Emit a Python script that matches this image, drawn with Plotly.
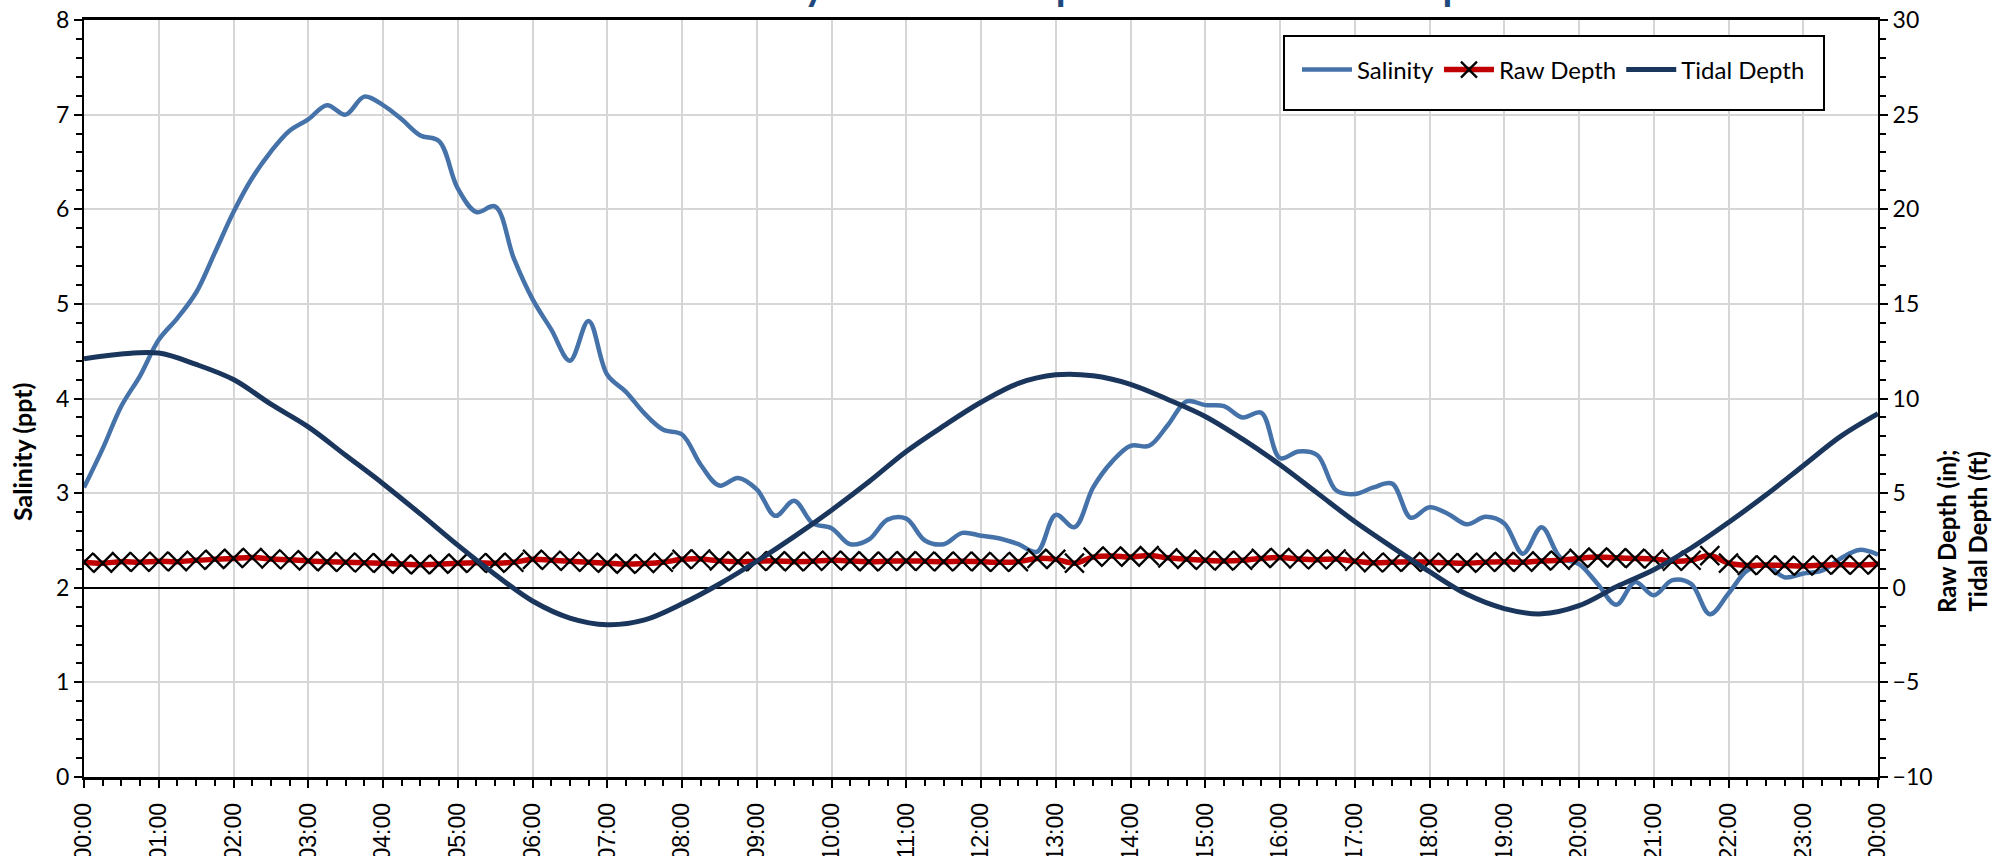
import plotly.graph_objects as go

# ---- data -------------------------------------------------------------
hour_ticks = list(range(25))
hour_labels = ["00:00", "01:00", "02:00", "03:00", "04:00", "05:00", "06:00",
               "07:00", "08:00", "09:00", "10:00", "11:00", "12:00", "13:00",
               "14:00", "15:00", "16:00", "17:00", "18:00", "19:00", "20:00",
               "21:00", "22:00", "23:00", "00:00"]

# 15-minute logger samples (hours since midnight)
sample_hours = [q / 4 for q in range(97)]

salinity_ppt = [
    3.06, 3.47, 3.92, 4.24, 4.62, 4.85, 5.12, 5.54,
    5.97, 6.33, 6.61, 6.83, 6.95, 7.10, 7.00, 7.19,
    7.10, 6.95, 6.78, 6.72, 6.22, 5.97, 6.03, 5.48,
    5.05, 4.73, 4.40, 4.82, 4.25, 4.07, 3.84, 3.67,
    3.62, 3.30, 3.08, 3.16, 3.04, 2.76, 2.92, 2.68,
    2.63, 2.46, 2.51, 2.72, 2.73, 2.50, 2.46, 2.58,
    2.55, 2.52, 2.46, 2.38, 2.77, 2.64, 3.06, 3.33,
    3.50, 3.50, 3.72, 3.97, 3.93, 3.92, 3.80, 3.85,
    3.37, 3.44, 3.40, 3.03, 2.99, 3.06, 3.10, 2.74,
    2.85, 2.78, 2.67, 2.75, 2.68, 2.36, 2.64, 2.32,
    2.25, 2.04, 1.82, 2.06, 1.92, 2.08, 2.04, 1.72,
    1.94, 2.18, 2.24, 2.11, 2.15, 2.18, 2.31, 2.40,
    2.35,
]

raw_depth_in = [
    1.35, 1.30, 1.38, 1.35, 1.40, 1.38, 1.45, 1.50,
    1.55, 1.60, 1.52, 1.48, 1.42, 1.38, 1.35, 1.32,
    1.30, 1.25, 1.22, 1.25, 1.30, 1.32, 1.30, 1.35,
    1.50, 1.45, 1.40, 1.35, 1.30, 1.25, 1.28, 1.35,
    1.50, 1.52, 1.42, 1.38, 1.40, 1.42, 1.38, 1.40,
    1.45, 1.42, 1.38, 1.40, 1.42, 1.40, 1.38, 1.40,
    1.38, 1.35, 1.38, 1.55, 1.50, 1.30, 1.62, 1.68,
    1.62, 1.70, 1.58, 1.50, 1.45, 1.42, 1.45, 1.55,
    1.60, 1.52, 1.48, 1.52, 1.40, 1.32, 1.35, 1.38,
    1.35, 1.32, 1.30, 1.35, 1.38, 1.35, 1.42, 1.45,
    1.55, 1.62, 1.58, 1.55, 1.52, 1.40, 1.45, 1.70,
    1.30, 1.18, 1.20, 1.18, 1.15, 1.20, 1.22, 1.20,
    1.25,
]

# predicted tide, half-hourly
tide_hours = [h / 2 for h in range(49)]
tidal_depth_ft = [
    12.10, 12.35, 12.40, 11.80, 11.00, 9.70, 8.50, 7.00,
    5.50, 3.90, 2.25, 0.70, -0.70, -1.60, -1.95, -1.70,
    -0.85, 0.20, 1.40, 2.70, 4.10, 5.60, 7.20, 8.55,
    9.80, 10.80, 11.25, 11.20, 10.75, 9.95, 9.05, 7.85,
    6.50, 5.00, 3.50, 2.15, 0.85, -0.35, -1.10, -1.38,
    -0.95, 0.05, 0.95, 2.10, 3.45, 4.90, 6.45, 8.00,
    9.20,
]

# ---- styling ----------------------------------------------------------
SAL_COLOR = "#4672AA"
TIDE_COLOR = "#1B365D"
RAW_COLOR = "#C00000"
GRID = "#D6D6D6"
LABEL_FONT = "Lato"

W, H = 2009, 856
M_L, M_R, M_T, M_B = 84, 131, 20, 79
PW = W - M_L - M_R
PH = H - M_T - M_B


def px_x(x):
    return (x - M_L) / PW


def px_y(y):
    return (H - M_B - y) / PH


fig = go.Figure()

fig.add_trace(go.Scatter(
    x=sample_hours, y=salinity_ppt, name="Salinity", mode="lines",
    line=dict(color=SAL_COLOR, width=4.5, shape="spline"),
    yaxis="y",
))
fig.add_trace(go.Scatter(
    x=sample_hours, y=raw_depth_in, name="Raw Depth", mode="lines+markers",
    line=dict(color=RAW_COLOR, width=5.5, shape="spline"),
    marker=dict(symbol="x-thin", size=19, color="black",
                line=dict(color="black", width=2.3)),
    yaxis="y2",
))
fig.add_trace(go.Scatter(
    x=tide_hours, y=tidal_depth_ft, name="Tidal Depth", mode="lines",
    line=dict(color=TIDE_COLOR, width=5, shape="spline"),
    yaxis="y2",
))

tick_font = dict(family=LABEL_FONT, size=23, color="black")

fig.update_layout(
    width=W, height=H,
    margin=dict(l=M_L, r=M_R, t=M_T, b=M_B, autoexpand=False),
    paper_bgcolor="white", plot_bgcolor="white",
    showlegend=True,
    xaxis=dict(
        range=[0, 24], tickmode="array", tickvals=hour_ticks, ticktext=hour_labels,
        tickangle=-90, tickfont=dict(family="Liberation Sans", size=23, color="black"),
        ticks="outside", ticklen=8, tickwidth=2, tickcolor="black",
        ticklabelstandoff=6, automargin=False,
        showgrid=True, gridcolor=GRID, gridwidth=1.5,
        showline=True, linecolor="black", linewidth=2.5, mirror=True,
        zeroline=False,
        minor=dict(dtick=0.25, ticks="outside", ticklen=6, tickwidth=2,
                   tickcolor="black", showgrid=False),
    ),
    yaxis=dict(
        range=[0, 8], dtick=1, tickfont=tick_font, automargin=False,
        ticks="outside", ticklen=8, tickwidth=2, tickcolor="black",
        showgrid=True, gridcolor=GRID, gridwidth=2,
        showline=True, linecolor="black", linewidth=2,
        zeroline=False,
        minor=dict(dtick=0.2, ticks="outside", ticklen=6, tickwidth=2,
                   tickcolor="black", showgrid=False),
    ),
    yaxis2=dict(
        range=[-10, 30], dtick=5, overlaying="y", side="right",
        tickfont=tick_font, automargin=False,
        ticks="outside", ticklen=8, tickwidth=2, tickcolor="black",
        showgrid=False,
        showline=True, linecolor="black", linewidth=2,
        zeroline=True, zerolinecolor="black", zerolinewidth=2,
        minor=dict(dtick=1, ticks="outside", ticklen=6, tickwidth=2,
                   tickcolor="black", showgrid=False),
    ),
    legend=dict(
        orientation="h", x=px_x(1297), y=px_y(70), xanchor="left", yanchor="middle",
        font=dict(family=LABEL_FONT, size=24, color="black"),
        bgcolor="rgba(0,0,0,0)", borderwidth=0, itemwidth=50,
    ),
    shapes=[dict(
        type="rect", xref="paper", yref="paper", layer="above",
        x0=px_x(1284), x1=px_x(1824), y0=px_y(110), y1=px_y(36),
        line=dict(color="black", width=2), fillcolor="white",
    )],
    annotations=[
        dict(text="<b>Salinity and Tidal Depth at Mill Creek Pump Station</b>",
             xref="paper", yref="paper", x=px_x(1148), y=px_y(11),
             xanchor="center", yanchor="bottom", showarrow=False,
             font=dict(family=LABEL_FONT, size=40, color="#1F497D")),
        dict(text="<b>Salinity (ppt)</b>", xref="paper", yref="paper",
             x=px_x(22), y=px_y(452), textangle=-90, showarrow=False,
             xanchor="center", yanchor="middle",
             font=dict(family=LABEL_FONT, size=25, color="black")),
        dict(text="<b>Raw Depth (in);<br>Tidal Depth (ft)</b>", xref="paper", yref="paper",
             x=px_x(1962), y=px_y(532), textangle=-90, showarrow=False,
             xanchor="center", yanchor="middle",
             font=dict(family=LABEL_FONT, size=24, color="black")),
    ],
)

fig.write_html("out.html")
